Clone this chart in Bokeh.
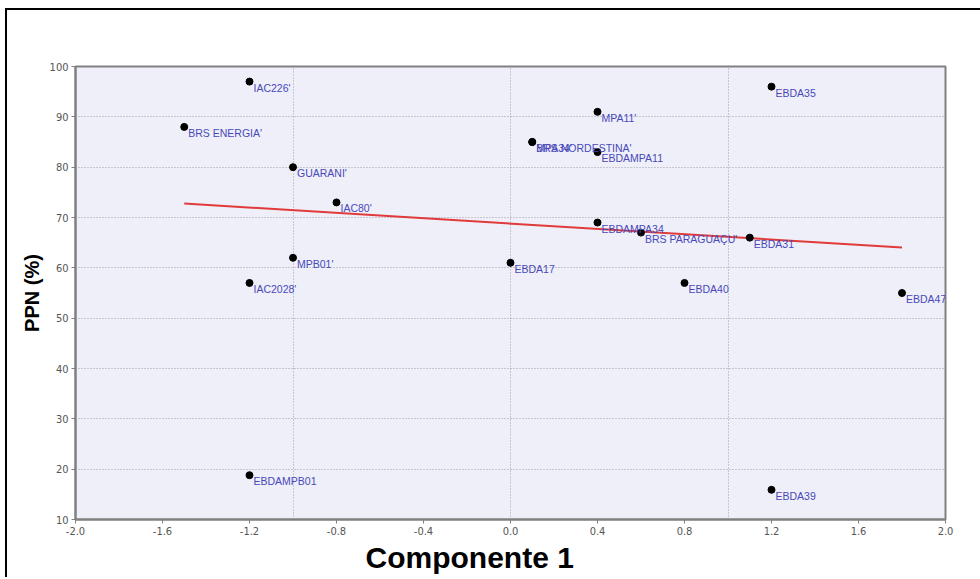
import numpy as np
from bokeh.plotting import figure
from bokeh.models import (ColumnDataSource, FixedTicker, NumeralTickFormatter,
                          Title, GlobalInlineStyleSheet)
from bokeh.core.properties import value
from bokeh.embed import file_html
from bokeh.resources import INLINE

# Genotype scores on the first component and their PPN (%)
genotypes = [
    "IAC226'", "BRS ENERGIA'", "GUARANI'", "IAC80'", "MPB01'", "IAC2028'",
    "EBDAMPB01", "MPA11'", "MPA34'", "BRS NORDESTINA'", "EBDAMPA11",
    "EBDAMPA34", "BRS PARAGUAÇU'", "EBDA17", "EBDA40", "EBDA31", "EBDA35",
    "EBDA47", "EBDA39",
]
componente1 = [-1.2, -1.5, -1.0, -0.8, -1.0, -1.2, -1.2, 0.4, 0.1, 0.1, 0.4,
               0.4, 0.6, 0.0, 0.8, 1.1, 1.2, 1.8, 1.2]
ppn = [97, 88, 80, 73, 62, 57, 18.8, 91, 85, 85, 83, 69, 67, 61, 57, 66, 96,
       55, 15.9]

x_ticks = [-2.0, -1.6, -1.2, -0.8, -0.4, 0.0, 0.4, 0.8, 1.2, 1.6, 2.0]
y_ticks = [10, 20, 30, 40, 50, 60, 70, 80, 90, 100]
x_grid = [-1.0, 0.0, 1.0]

src = ColumnDataSource(dict(x=componente1, y=ppn, label=genotypes))

# canvas runs past the right edge of the page so the frame rule is open there
p = figure(
    width=990, height=569,
    x_range=(-2.0, 2.0), y_range=(10, 100),
    output_backend="svg", toolbar_location=None,
    min_border_left=68, min_border_right=52,
    min_border_top=56, min_border_bottom=60,
    background_fill_color="#EFEFFA",
    border_fill_color="white",
)
# black rules along the top and left of the page frame; page never scrolls
p.styles = {
    "margin-top": "10px", "margin-left": "7px",
    "box-shadow": "-2px -2px 0 0 #000",
}
p.stylesheets = [GlobalInlineStyleSheet(css="html, body { margin: 0; overflow: hidden; }")]

p.outline_line_color = "#808080"
p.outline_line_width = 2

# grid: horizontal at every tick, vertical only at -1, 0, 1
p.ygrid.ticker = FixedTicker(ticks=y_ticks)
p.ygrid.grid_line_color = "#9C9CA8"
p.ygrid.grid_line_dash = "1 2"
p.xgrid.ticker = FixedTicker(ticks=x_grid)
p.xgrid.grid_line_color = "#9C9CA8"
p.xgrid.grid_line_dash = "1 2"

p.xaxis.ticker = FixedTicker(ticks=x_ticks)
p.xaxis.formatter = NumeralTickFormatter(format="0.0")
p.yaxis.ticker = FixedTicker(ticks=y_ticks)

for ax in (p.xaxis[0], p.yaxis[0]):
    ax.axis_line_color = "#808080"
    ax.axis_line_width = 2
    ax.major_tick_line_color = "#808080"
    ax.major_tick_out = 4
    ax.major_tick_in = 0
    ax.minor_tick_line_color = None
    ax.major_label_text_font = "Liberation Sans Narrow, Arial Narrow, DejaVu Sans Condensed"
    ax.major_label_text_font_size = "11px"
    ax.major_label_text_color = "#555555"
    ax.major_label_standoff = 3

p.yaxis.axis_label = "PPN (%)"
p.yaxis.axis_label_text_font = "Liberation Sans"
p.yaxis.axis_label_text_font_style = "bold"
p.yaxis.axis_label_text_color = "black"
p.yaxis.axis_label_text_font_size = "20px"
p.yaxis.axis_label_standoff = 4

# x-axis caption, set a little left of the frame centre
p.add_layout(Title(text="Componente 1", align="left", offset=290,
                   text_font="Liberation Sans", text_font_style="bold",
                   text_font_size="30px", text_color="black", standoff=2),
             "below")

# least-squares trend line over the observed range
coef = np.polyfit(componente1, ppn, 1)
xs = [min(componente1), max(componente1)]
p.line(xs, list(np.polyval(coef, xs)), line_color="#E03A3A", line_width=2)

p.scatter("x", "y", source=src, size=7, color="black")
p.text("x", "y", text="label", source=src,
       text_font=value("Liberation Sans"), text_font_size="10.5px",
       text_color="#4848B8", x_offset=4, y_offset=0, text_baseline="top")

open("out.html", "w").write(file_html(p, INLINE))
